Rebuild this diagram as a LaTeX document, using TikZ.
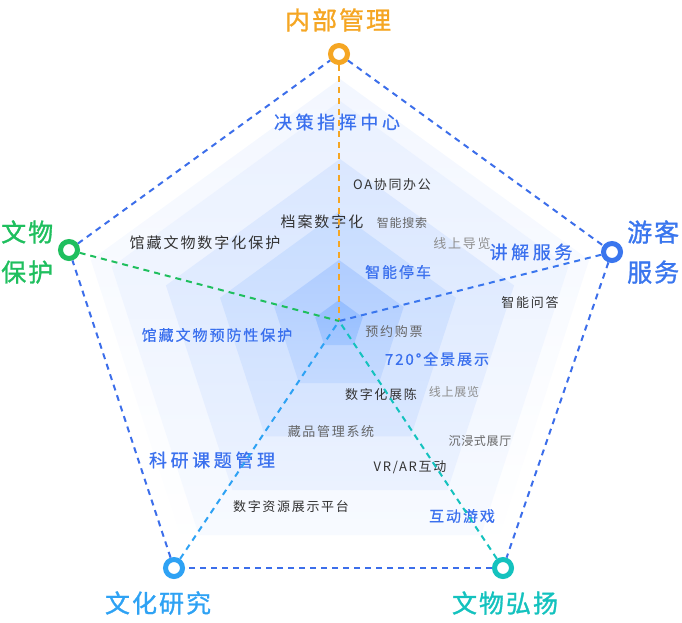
\documentclass[tikz,border=0pt]{standalone}
\usepackage{fontspec}
\setmainfont{Noto Sans CJK SC}
\usetikzlibrary{positioning}

\definecolor{cOrange}{HTML}{F5A623}
\definecolor{cGreen}{HTML}{1FBF5E}
\definecolor{cBlue}{HTML}{3A76EE}
\definecolor{cSky}{HTML}{2EA2F4}
\definecolor{cTeal}{HTML}{14C2BE}
\definecolor{cEdge}{HTML}{3C6EEA}
\definecolor{cLabel}{HTML}{3A70EE}
\definecolor{cDark}{HTML}{333333}
\definecolor{cMid}{HTML}{666666}
\definecolor{cLight}{HTML}{8E8E8E}
\definecolor{fillAtop}{HTML}{F3F7FF}
\definecolor{fillBtop}{HTML}{EAF1FF}
\definecolor{fillBbot}{HTML}{F7FAFF}
\definecolor{fillCtop}{HTML}{DAE7FF}
\definecolor{fillCbot}{HTML}{EBF2FF}
\definecolor{fillDtop}{HTML}{C8DDFF}
\definecolor{fillDbot}{HTML}{DAE7FF}
\definecolor{fillEtop}{HTML}{B0CDFF}
\definecolor{fillEbot}{HTML}{C4DAFF}
\definecolor{fillFtop}{HTML}{96BEFF}
\definecolor{fillFbot}{HTML}{A4C7FF}

\tikzset{
  ring/.style={circle,draw,line width=5pt,fill=white,minimum size=17pt,inner sep=0pt},
  dashline/.style={line width=2pt,dash pattern=on 6pt off 5pt},
  biglabel/.style={inner sep=0pt,font=\fontsize{25}{40}\selectfont\addfontfeature{LetterSpace=8,FakeBold=1.2}},
  bluebig/.style={text=cLabel,inner sep=0pt,font=\fontsize{18}{18}\selectfont\addfontfeature{LetterSpace=20,FakeBold=0.6}},
  bluesmall/.style={text=cLabel,inner sep=0pt,font=\fontsize{15}{15}\selectfont\addfontfeature{LetterSpace=13,FakeBold=0.5}},
  textmid/.style={inner sep=0pt,font=\fontsize{15}{15}\selectfont\addfontfeature{LetterSpace=13}},
  textsmall/.style={inner sep=0pt,font=\fontsize{13}{13}\selectfont\addfontfeature{LetterSpace=13}},
  texttiny/.style={inner sep=0pt,font=\fontsize{12}{12}\selectfont\addfontfeature{LetterSpace=6}},
}

\begin{document}
\begin{tikzpicture}[x=1pt,y=-1pt]
        \useasboundingbox (0,0) rectangle (682,622);

        % layered fills, fading downwards
        \begin{scope}[shift={(340,341)}]
        \shade[top color=fillAtop,bottom color=white] (-90:262) -- (-18:262) -- (54:262) -- (126:262) -- (198:262) -- cycle;
        \shade[top color=fillBtop,bottom color=fillBbot] (-90:240) -- (-18:240) -- (54:240) -- (126:240) -- (198:240) -- cycle;
        \end{scope}
        \begin{scope}[shift={(340,342)}]
        \shade[top color=fillCtop,bottom color=fillCbot] (-90:183) -- (-18:183) -- (54:183) -- (126:183) -- (198:183) -- cycle;
        \end{scope}
        \begin{scope}[shift={(338,336)}]
        \shade[top color=fillDtop,bottom color=fillDbot] (-90:124) -- (-18:124) -- (54:124) -- (126:124) -- (198:124) -- cycle;
        \end{scope}
        \begin{scope}[shift={(339,328)}]
        \shade[top color=fillEtop,bottom color=fillEbot] (-90:68) -- (-18:68) -- (54:68) -- (126:68) -- (198:68) -- cycle;
        \end{scope}
        \begin{scope}[shift={(339,325)}]
        \shade[top color=fillFtop,bottom color=fillFbot] (-90:25) -- (-18:25) -- (54:25) -- (126:25) -- (198:25) -- cycle;
        \end{scope}

        % inner labels
        \node[bluebig] (command) at (337,122) {决策指挥中心};
        \node[textsmall,text=cDark] (oa) at (392,185) {OA协同办公};
        \node[textmid,text=cDark] (archive) at (322,222) {档案数字化};
        \node[texttiny,text=cMid] (search) at (402,223) {智能搜索};
        \node[textmid,text=cDark] (digiprotect) at (205,243) {馆藏文物数字化保护};
        \node[textsmall,text=cLight] (onlineguide) at (462,244) {线上导览};
        \node[bluebig] (guide) at (531,252) {讲解服务};
        \node[bluesmall] (parking) at (398,272) {智能停车};
        \node[textsmall,text=cDark] (qa) at (530,303) {智能问答};
        \node[textsmall,text=cMid] (ticket) at (394,332) {预约购票};
        \node[bluesmall] (preventive) at (217,335) {馆藏文物预防性保护};
        \node[bluesmall] (pano) at (437,359) {720°全景展示};
        \node[textsmall,text=cDark] (exhibit) at (381,395) {数字化展陈};
        \node[texttiny,text=cLight] (onlineexpo) at (454,392) {线上展览};
        \node[textsmall,text=cMid] (collection) at (331,432) {藏品管理系统};
        \node[texttiny,text=cMid] (immersive) at (480,441) {沉浸式展厅};
        \node[bluebig] (research) at (212,460) {科研课题管理};
        \node[textsmall,text=cDark] (vrar) at (410,467) {VR/AR互动};
        \node[textsmall,text=cDark] (resource) at (291,507) {数字资源展示平台};
        \node[bluesmall] (game) at (462,516) {互动游戏};

        % corners
        \coordinate (hub) at (339,321);
        \node[ring,draw=cOrange] (mgmt) at (339,54) {};
        \node[ring,draw=cBlue] (visitor) at (612,252) {};
        \node[ring,draw=cTeal] (promote) at (503,568) {};
        \node[ring,draw=cSky] (culture) at (174,568) {};
        \node[ring,draw=cGreen] (relic) at (69,250) {};

        \draw[dashline,cEdge] (mgmt) -- (visitor);
        \draw[dashline,cEdge] (visitor) -- (promote);
        \draw[dashline,cEdge] (promote) -- (culture);
        \draw[dashline,cEdge] (culture) -- (relic);
        \draw[dashline,cEdge] (relic) -- (mgmt);

        \draw[dashline,cOrange] (mgmt) -- (hub);
        \draw[dashline,cBlue] (visitor) -- (hub);
        \draw[dashline,cTeal] (promote) -- (hub);
        \draw[dashline,cSky] (culture) -- (hub);
        \draw[dashline,cGreen] (relic) -- (hub);

        % corner labels
        \node[biglabel,text=cOrange] (mgmtlbl) at (338,20) {内部管理};
        \node[biglabel,text=cBlue,anchor=west,align=left] (visitorlbl) at (627,252) {游客\\服务};
        \node[biglabel,text=cTeal] (promotelbl) at (505,603) {文物弘扬};
        \node[biglabel,text=cSky] (culturelbl) at (158,603) {文化研究};
        \node[biglabel,text=cGreen,anchor=west,align=left] (reliclbl) at (1,252) {文物\\保护};
\end{tikzpicture}
\end{document}
